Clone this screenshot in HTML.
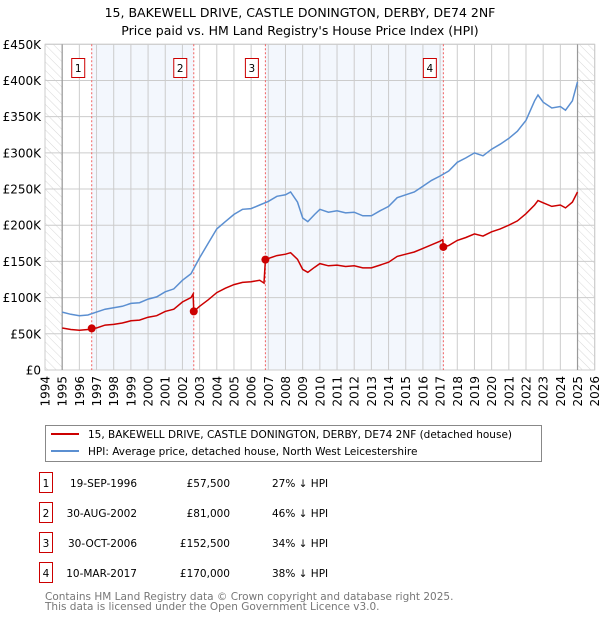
<!DOCTYPE html>
<html><head><meta charset="utf-8"><style>
body{margin:0;background:#fff;font-family:"DejaVu Sans","Liberation Sans",sans-serif;}
svg text{font-family:"DejaVu Sans","Liberation Sans",sans-serif;}
</style></head><body>
<svg id="c" width="600" height="620" viewBox="0 0 600 620">
<defs><pattern id="hatch" width="6" height="6" patternUnits="userSpaceOnUse" patternTransform="rotate(-45)"><line x1="0" y1="0" x2="0" y2="6" stroke="#d8d8d8" stroke-width="1"/></pattern></defs>
<text x="300" y="17" text-anchor="middle" font-size="12.5">15, BAKEWELL DRIVE, CASTLE DONINGTON, DERBY, DE74 2NF</text>
<text x="300" y="35" text-anchor="middle" font-size="12.5">Price paid vs. HM Land Registry's House Price Index (HPI)</text>
<g id="plot"></g>
<g>
<rect x="45.5" y="425.5" width="496" height="36" fill="#fff" stroke="#888"/>
<line x1="51" y1="434" x2="79" y2="434" stroke="#cc0000" stroke-width="2"/>
<text x="88" y="438" font-size="10.5">15, BAKEWELL DRIVE, CASTLE DONINGTON, DERBY, DE74 2NF (detached house)</text>
<line x1="51" y1="451" x2="79" y2="451" stroke="#5b8fd1" stroke-width="2"/>
<text x="88" y="455" font-size="10.5">HPI: Average price, detached house, North West Leicestershire</text>
</g>
<g id="table" font-size="10.5"></g>
<text x="45" y="600" font-size="10.5" fill="#777">Contains HM Land Registry data © Crown copyright and database right 2025.</text>
<text x="45" y="610" font-size="10.5" fill="#777">This data is licensed under the Open Government Licence v3.0.</text>
</svg>
<script>
const hpiT=[1995,1995.5,1996,1996.5,1997,1997.5,1998,1998.5,1999,1999.5,2000,2000.5,2001,2001.5,2002,2002.5,2003,2003.5,2004,2004.5,2005,2005.5,2006,2006.5,2007,2007.5,2008,2008.3,2008.7,2009,2009.3,2009.7,2010,2010.5,2011,2011.5,2012,2012.5,2013,2013.5,2014,2014.5,2015,2015.5,2016,2016.5,2017,2017.5,2018,2018.5,2019,2019.5,2020,2020.5,2021,2021.5,2022,2022.5,2022.7,2023,2023.5,2024,2024.3,2024.7,2025];
const hpiV=[80,77,75,76,80,84,86,88,92,93,98,101,108,112,124,133,155,175,195,205,215,222,223,228,233,240,242,246,232,210,205,215,222,218,220,217,218,213,213,220,226,238,242,246,254,262,268,275,287,293,300,296,305,312,320,330,345,372,380,370,362,364,359,372,398];
const redT=[1995,1995.5,1996,1996.5,1996.72,1997,1997.5,1998,1998.5,1999,1999.5,2000,2000.5,2001,2001.5,2002,2002.5,2002.62,2002.66,2003,2003.5,2004,2004.5,2005,2005.5,2006,2006.5,2006.75,2006.83,2007,2007.5,2008,2008.3,2008.7,2009,2009.3,2009.7,2010,2010.5,2011,2011.5,2012,2012.5,2013,2013.5,2014,2014.5,2015,2015.5,2016,2016.5,2017,2017.15,2017.19,2017.5,2018,2018.5,2019,2019.5,2020,2020.5,2021,2021.5,2022,2022.5,2022.7,2023,2023.5,2024,2024.3,2024.7,2025];
const redV=[58,56,55,56,57.5,58,62,63,65,68,69,73,75,81,84,94,100,105,81,88,97,107,113,118,121,122,124,120,152.5,154,158,160,162,153,139,135,142,147,144,145,143,144,141,141,145,149,157,160,163,168,173,178,180,170,172,179,183,188,185,191,195,200,206,216,228,234,231,226,228,224,232,246];
const saleT=[1996.72,2002.66,2006.83,2017.19];
const saleV=[57.5,81,152.5,170];
const saleLabels=["1","2","3","4"];
const saleDates=["19-SEP-1996","30-AUG-2002","30-OCT-2006","10-MAR-2017"];
const salePrices=["£57,500","£81,000","£152,500","£170,000"];
const saleHpi=["27% ↓ HPI","46% ↓ HPI","34% ↓ HPI","38% ↓ HPI"];
const yTicks=[0,50,100,150,200,250,300,350,400,450];
const yTickLabels=["£0","£50K","£100K","£150K","£200K","£250K","£300K","£350K","£400K","£450K"];
const xYears=[1994,1995,1996,1997,1998,1999,2000,2001,2002,2003,2004,2005,2006,2007,2008,2009,2010,2011,2012,2013,2014,2015,2016,2017,2018,2019,2020,2021,2022,2023,2024,2025,2026];

const L=45,R=594.7,T=44.3,B=370,x0=1994,x1=2026,yMax=450;
const X=t=>L+(t-x0)/(x1-x0)*(R-L);
const Y=v=>B-v/yMax*(B-T);
const NS="http://www.w3.org/2000/svg";
function mk(tag,attrs,parent){const e=document.createElementNS(NS,tag);for(const k in attrs)e.setAttribute(k,attrs[k]);parent.appendChild(e);return e;}
const g=document.getElementById('plot');
for(let i=0;i<saleT.length;i+=2){
 const r=mk('rect',{x:X(saleT[i]),y:T,width:X(saleT[i+1])-X(saleT[i]),height:B-T,fill:'#eef3fc',opacity:0.7},g);
 
 
}
let h1=mk('rect',{x:L,y:T,width:X(1995)-L,height:B-T,fill:'url(#hatch)'},g);


let h2=mk('rect',{x:X(2025),y:T,width:R-X(2025),height:B-T,fill:'url(#hatch)'},g);


yTicks.forEach((v,i)=>{
 const l=mk('line',{x1:L,x2:R,y1:Y(v),y2:Y(v),stroke:'#ccc','stroke-width':1},g);
 
 
 const t=mk('text',{x:L-4,y:Y(v)+4.5,'text-anchor':'end','font-size':12},g);
 t.textContent=yTickLabels[i];
 
 
});
xYears.forEach(yr=>{
 const l=mk('line',{x1:X(yr),x2:X(yr),y1:T,y2:B,stroke:'#ccc','stroke-width':1},g);
 
 
 const t=mk('text',{x:0,y:0,'text-anchor':'end','font-size':12,transform:`translate(${X(yr)+4.5},${B+6}) rotate(-90)`},g);
 t.textContent=yr;
 
 
});
mk('rect',{x:L,y:T,width:R-L,height:B-T,fill:'none',stroke:'#ccc'},g);
[1995,2025].forEach(yr=>{const l=mk('line',{x1:X(yr),x2:X(yr),y1:T,y2:B,stroke:'#999','stroke-width':1.2},g);
 
 });
saleT.forEach((t,i)=>{
 const l=mk('line',{x1:X(t),x2:X(t),y1:T,y2:B,stroke:'#f06060','stroke-width':1,'stroke-dasharray':'2,2'},g);
 
 
 const b=mk('rect',{x:X(t)-20,y:58.5,width:13,height:19,fill:'#fff',stroke:'#cc0000'},g);
 
 
 const tx=mk('text',{x:X(t)-13.5,y:72,'text-anchor':'middle','font-size':10.5},g);
 tx.textContent=saleLabels[i];
 
 
});
function path(ts,vs){return ts.map((t,i)=>(i?'L':'M')+X(t).toFixed(1)+','+Y(vs[i]).toFixed(1)).join('');}
const hp=mk('path',{d:path(hpiT,hpiV),fill:'none',stroke:'#5b8fd1','stroke-width':1.5},g);


const rp=mk('path',{d:path(redT,redV),fill:'none',stroke:'#cc0000','stroke-width':1.5},g);


saleT.forEach((t,i)=>{
 const c=mk('circle',{cx:X(t),cy:Y(saleV[i]),r:4,fill:'#cc0000'},g);
 
 
});
const tb=document.getElementById('table');
const rowY=[487,517,547,577];
saleLabels.forEach((s,i)=>{
 const y=rowY[i];
 const b=mk('rect',{x:39.5,y:y-14.5,width:13,height:20,fill:'#fff',stroke:'#cc0000'},tb);
 
 
 const cells=[[46,s,'middle'],[137,saleDates[i],'end'],[230,salePrices[i],'end'],[272,saleHpi[i],'start']];
 const names=['table-sale-number','table-sale-date','table-sale-price','table-sale-hpi-diff'];
 cells.forEach((c,j)=>{
  const t=mk('text',{x:c[0],y:y,'text-anchor':c[2]},tb);
  t.textContent=c[1];
  
  
 });
});
</script>
</body></html>
